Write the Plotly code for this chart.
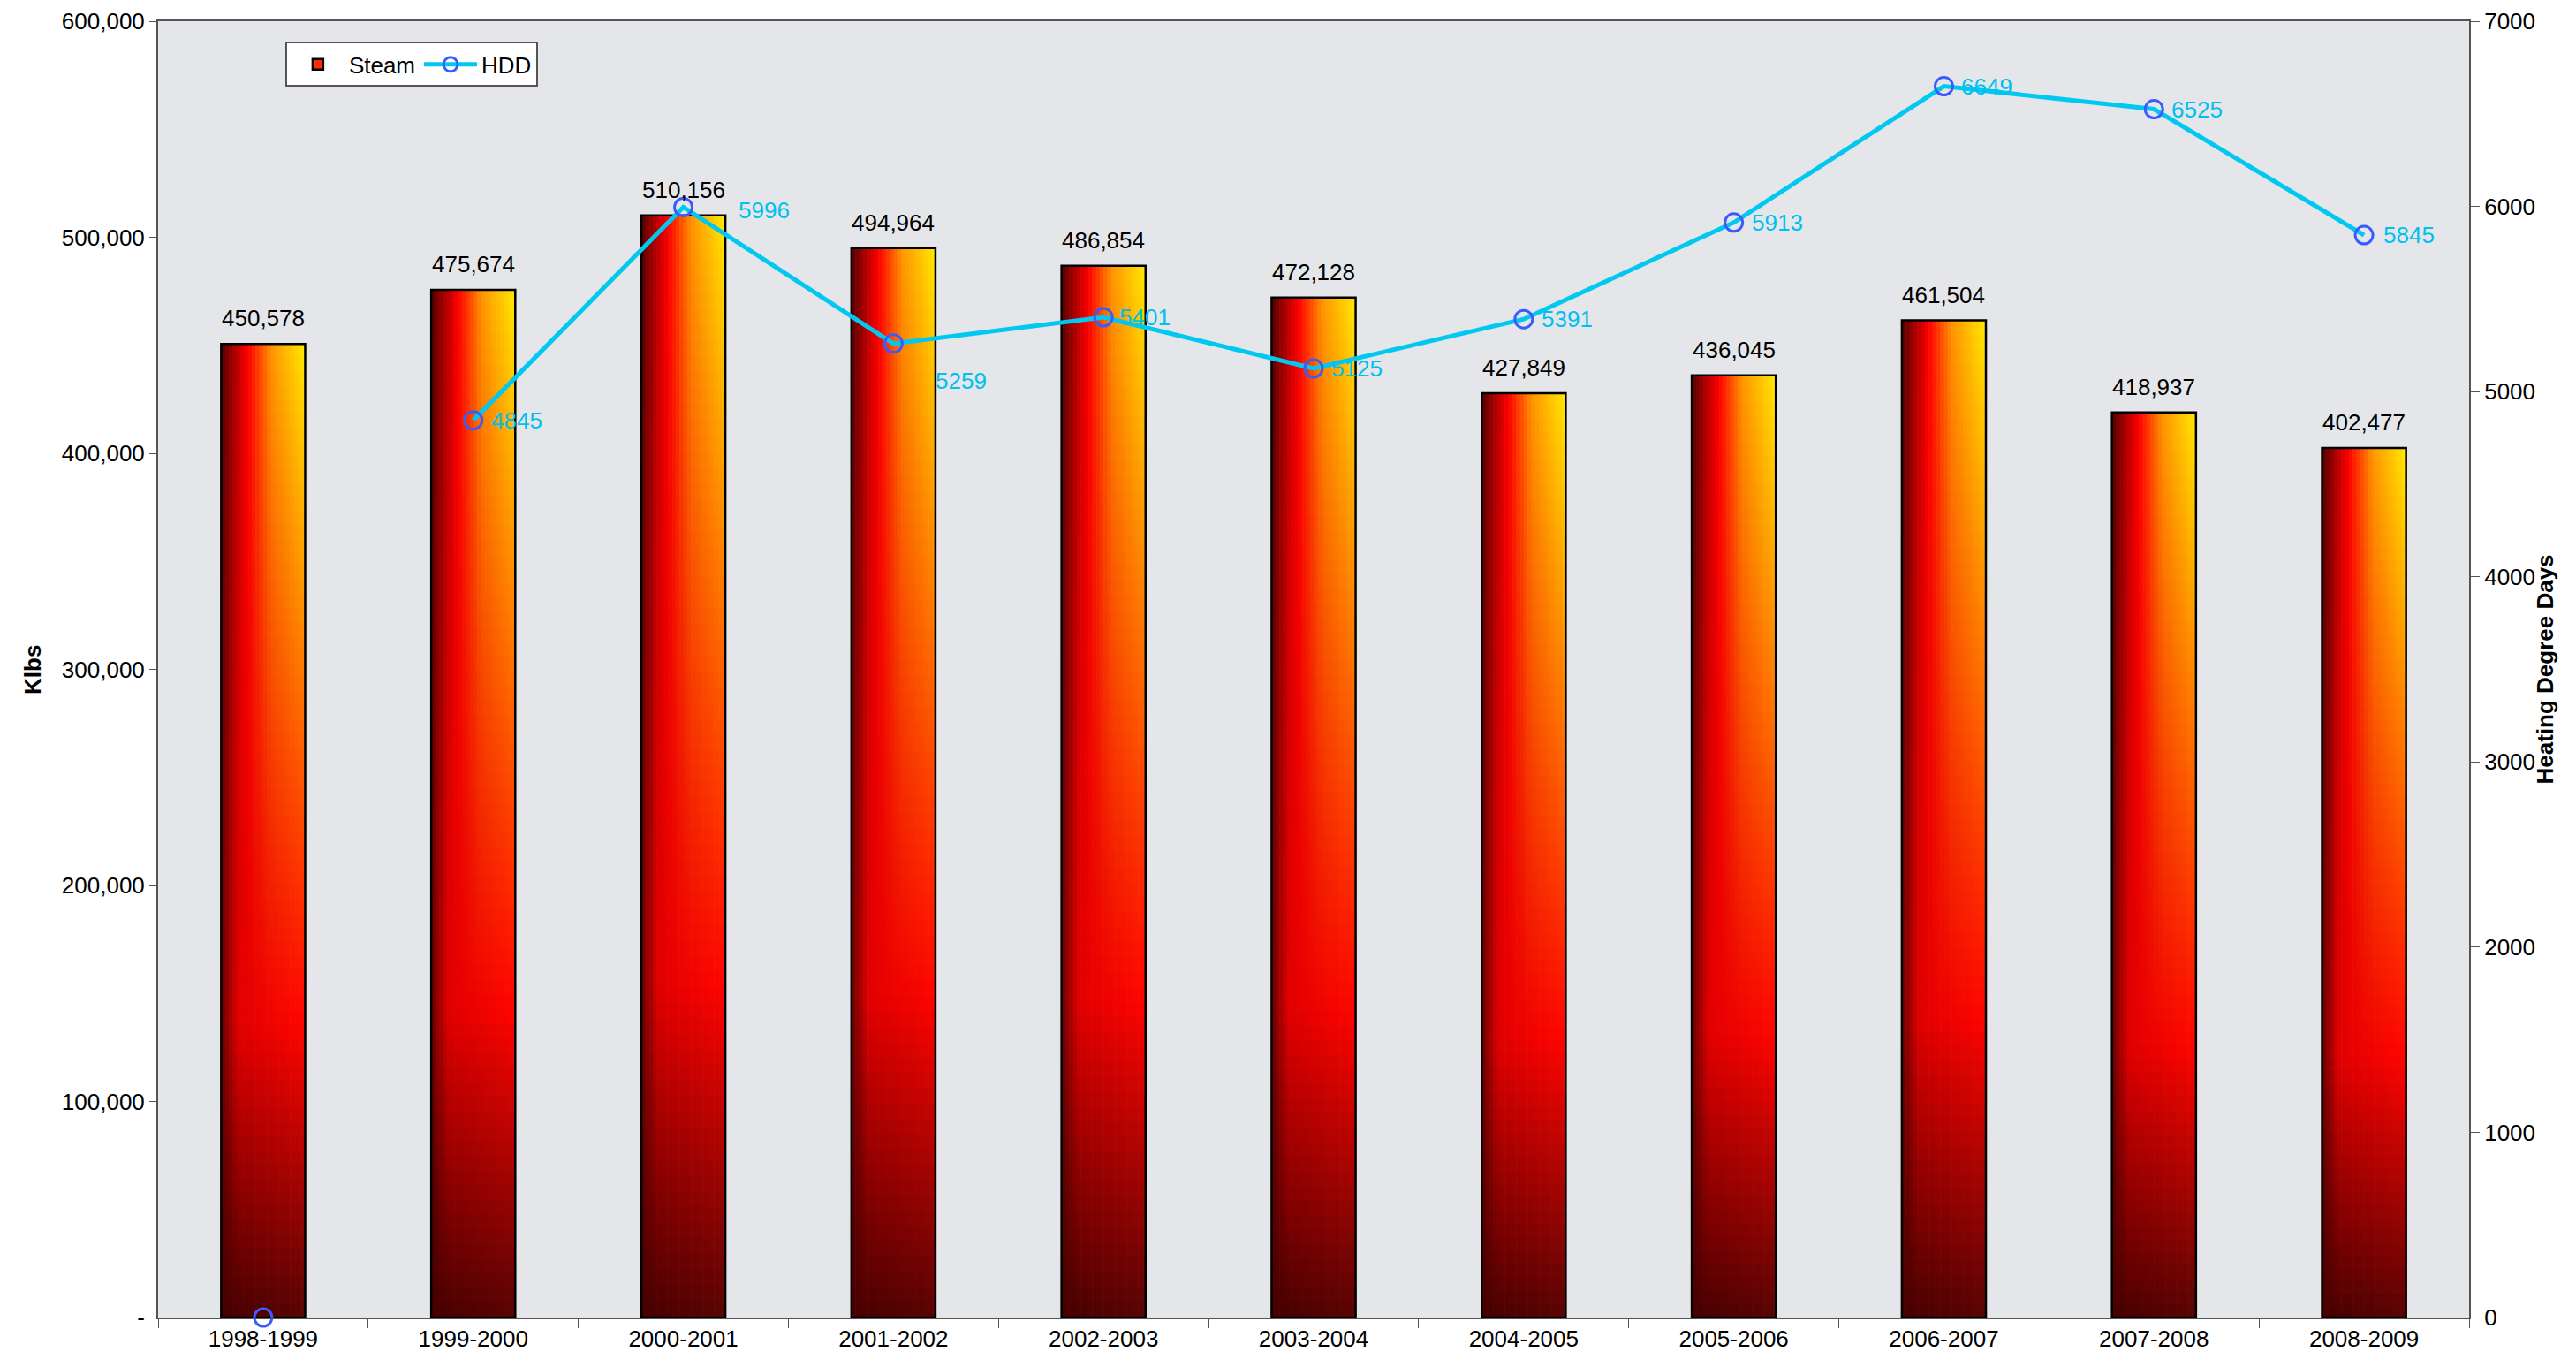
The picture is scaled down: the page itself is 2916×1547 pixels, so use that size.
import plotly.graph_objects as go

categories = ["1998-1999", "1999-2000", "2000-2001", "2001-2002", "2002-2003", "2003-2004",
              "2004-2005", "2005-2006", "2006-2007", "2007-2008", "2008-2009"]
steam = [450578, 475674, 510156, 494964, 486854, 472128, 427849, 436045, 461504, 418937, 402477]
hdd = [0, 4845, 5996, 5259, 5401, 5125, 5391, 5913, 6649, 6525, 5845]
hdd_labels = ["", "4845", "5996", "5259", "5401", "5125", "5391", "5913", "6649", "6525", "5845"]
left_ticks = [0, 100000, 200000, 300000, 400000, 500000, 600000]
left_ticktext = ["-", "100,000", "200,000", "300,000", "400,000", "500,000", "600,000"]
right_ticks = [0, 1000, 2000, 3000, 4000, 5000, 6000, 7000]

# label placement tweaks (pixels) for HDD labels, style only
label_xshift = [18, 18, 60, 46, 16, 18, 18, 18, 18, 18, 20]
label_yshift = [0, 0, -4, -42, 0, 0, 0, 0, 0, 0, 0]

FONT = "Arial, Liberation Sans, sans-serif"
FS = 26
BAR_W = 0.4
N_STRIPS = 22
N_SEG = 70

# gradient definition (style only)
TOP = [(0.0, (85, 0, 0)), (0.32, (255, 0, 0)), (0.6, (255, 150, 0)), (1.0, (255, 235, 0))]
MID = [(0.0, (105, 0, 0)), (0.2, (225, 0, 0)), (1.0, (255, 5, 0))]
BOT = [(0.0, (70, 0, 0)), (1.0, (88, 4, 4))]


def interp(stops, t):
    for (t0, c0), (t1, c1) in zip(stops[:-1], stops[1:]):
        if t <= t1:
            f = 0 if t1 == t0 else (t - t0) / (t1 - t0)
            return tuple(c0[k] + (c1[k] - c0[k]) * f for k in range(3))
    return stops[-1][1]


def mix(a, b, f):
    return tuple(a[k] + (b[k] - a[k]) * f for k in range(3))


def color_at(u, v):
    if v < 0.3:
        c = mix(interp(BOT, u), interp(MID, u), v / 0.3)
    else:
        c = mix(interp(MID, u), interp(TOP, u), (v - 0.3) / 0.7)
    return "rgb(%d,%d,%d)" % tuple(int(round(x)) for x in c)


fig = go.Figure()

strip_w = BAR_W / N_STRIPS
for i in range(N_STRIPS):
    u = (i + 0.5) / N_STRIPS
    xs, bases, ys, cols = [], [], [], []
    for cat, val in zip(categories, steam):
        seg = val / N_SEG
        for j in range(N_SEG):
            v = (j + 0.5) / N_SEG
            xs.append(cat)
            bases.append(j * seg)
            ys.append(min(seg * 1.05, val - j * seg))
            cols.append(color_at(u, v))
    fig.add_trace(go.Bar(
        x=xs, y=ys, base=bases, width=strip_w * 1.15, offset=-BAR_W / 2 + i * strip_w,
        marker=dict(color=cols, line=dict(width=0)), showlegend=False, hoverinfo="skip",
    ))

# outline for Steam bars
fig.add_trace(go.Bar(
    x=categories, y=steam, width=BAR_W, name="Steam",
    marker=dict(color="rgba(0,0,0,0)", line=dict(color="black", width=2.5)),
    showlegend=False,
))
# legend entry for Steam
fig.add_trace(go.Bar(
    x=[categories[0]], y=[None], name="Steam",
    marker=dict(color="#ff2a00", line=dict(color="black", width=2.5)),
    showlegend=True,
))

# HDD line (no segment to the empty first season)
fig.add_trace(go.Scatter(
    x=categories[1:], y=hdd[1:], yaxis="y2", name="HDD", mode="lines",
    line=dict(color="#00c8f0", width=5), showlegend=False, hoverinfo="skip",
))
fig.add_trace(go.Scatter(
    x=categories, y=hdd, yaxis="y2", name="HDD", mode="markers",
    marker=dict(symbol="circle-open", size=20, color="#3a5cff", line=dict(width=3)),
    cliponaxis=False, showlegend=False,
))
# legend entry for HDD (line + marker)
fig.add_trace(go.Scatter(
    x=[None], y=[None], yaxis="y2", name="HDD", mode="lines+markers",
    line=dict(color="#00c8f0", width=5),
    marker=dict(symbol="circle-open", size=20, color="#3a5cff", line=dict(width=3)),
))

for cat, val in zip(categories, steam):
    fig.add_annotation(x=cat, y=val, text=f"{val:,}", showarrow=False, yanchor="bottom",
                       yshift=12, font=dict(size=FS, color="black", family=FONT))

for cat, val, lab, dx, dy in zip(categories, hdd, hdd_labels, label_xshift, label_yshift):
    if lab:
        fig.add_annotation(x=cat, y=val, yref="y2", text=lab, showarrow=False,
                           xanchor="left", yanchor="middle", xshift=dx, yshift=dy,
                           font=dict(size=FS, color="#00c0f0", family=FONT))

fig.add_annotation(xref="paper", yref="paper", x=-0.061, y=0.5, text="<b>Klbs</b>",
                   textangle=-90, showarrow=False, font=dict(size=FS, color="black", family=FONT))
fig.add_annotation(xref="paper", yref="paper", x=1.039, y=0.5, text="<b>Heating Degree Days</b>",
                   textangle=-90, showarrow=False, font=dict(size=FS, color="black", family=FONT))

fig.update_layout(
    width=2900, height=1531,
    margin=dict(l=171, r=113, t=16, b=48, autoexpand=False),
    paper_bgcolor="white", plot_bgcolor="#e4e6e9",
    barmode="overlay",
    font=dict(family=FONT, size=FS, color="black"),
    showlegend=True,
    legend=dict(orientation="h", x=0.055, y=0.984, xanchor="left", yanchor="top",
                bgcolor="white", bordercolor="#555555", borderwidth=2,
                font=dict(size=FS), itemwidth=60, traceorder="normal"),
    xaxis=dict(type="category", showline=True, linecolor="#555555", linewidth=2, mirror=True,
               ticks="outside", ticklen=10, tickcolor="#555555", tickson="boundaries",
               showgrid=False, tickfont=dict(size=FS), range=[-0.5, 10.5], automargin=False),
    yaxis=dict(range=[0, 600000], tickvals=left_ticks, ticktext=left_ticktext,
               showline=True, linecolor="#555555", linewidth=2, ticks="outside", ticklen=8,
               tickcolor="#555555", showgrid=False, zeroline=False, tickfont=dict(size=FS),
               automargin=False),
    yaxis2=dict(range=[0, 7000], tickvals=right_ticks, overlaying="y", side="right",
                showline=True, linecolor="#555555", linewidth=2, ticks="outside", ticklen=10,
                tickcolor="#555555", showgrid=False, zeroline=False, tickfont=dict(size=FS),
                automargin=False),
)

fig.write_html("out.html")
